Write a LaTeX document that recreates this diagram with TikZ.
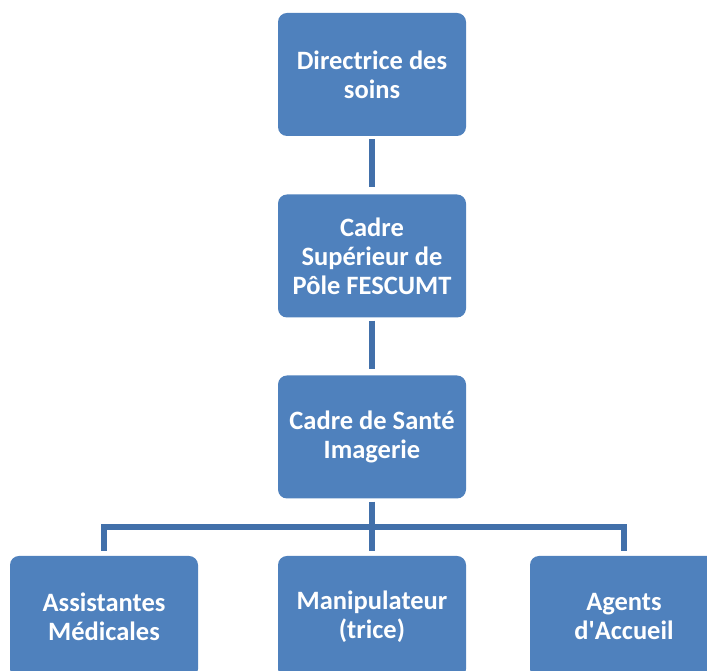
\documentclass[tikz,border=0pt]{standalone}
\usepackage{fontspec}
\setmainfont{Carlito}
\definecolor{boxblue}{RGB}{79,129,189}
\definecolor{connblue}{RGB}{66,112,170}
\begin{document}
\begin{tikzpicture}[x=1pt,y=1pt,
  orgbox/.style={draw=none, fill=boxblue, rounded corners=9pt, minimum width=188pt, minimum height=123pt,
    text=white, align=center, font=\fontsize{26.5}{29}\selectfont\bfseries, inner sep=0pt},
  conn/.style={draw=connblue, line width=6pt}]
\useasboundingbox (0,0) rectangle (707,671);
\clip (0,0) rectangle (707,671);
\node[orgbox] (dir) at (372,596.5) {Directrice des\\soins};
\node[orgbox] (csp) at (372,415) {Cadre\\Supérieur de\\Pôle FESCUMT};
\node[orgbox] (css) at (372,234) {Cadre de Santé\\Imagerie};
\node[orgbox, minimum height=122pt] (am) at (104,54) {Assistantes\\Médicales};
\node[orgbox, minimum height=122pt] (mt) at (372,54) {Manipulateur\\(trice)};
\node[orgbox, minimum height=122pt] (aa) at (624,54) {Agents\\d\textquotesingle Accueil};
\coordinate (bar) at (372,143.5);
\draw[conn, shorten <=3pt, shorten >=7pt] (dir.south) -- (csp.north);
\draw[conn, shorten <=3pt, shorten >=6pt] (csp.south) -- (css.north);
\draw[conn, shorten <=3pt, shorten >=5pt] (css.south) -- (mt.north);
\draw[conn, shorten <=5pt, shorten >=5pt] (am.north) |- (bar) -| (aa.north);
\end{tikzpicture}
\end{document}
